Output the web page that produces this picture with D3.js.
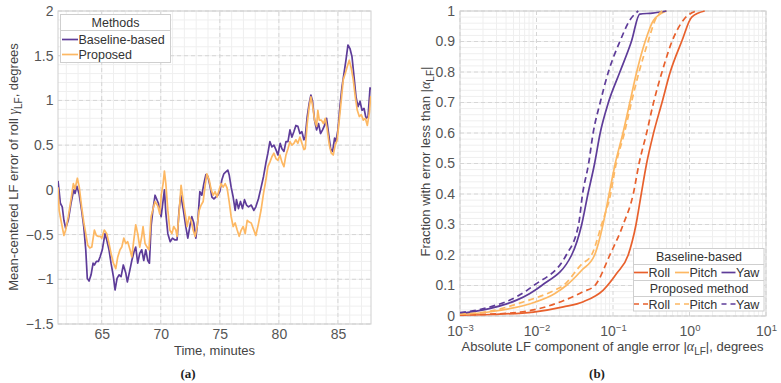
<!DOCTYPE html>
<html>
<head>
<meta charset="utf-8">
<script src="https://cdn.jsdelivr.net/npm/d3@7"></script>
<style>
body { margin: 0; background: #fff; }
svg { font-family: "Liberation Sans", Arial, sans-serif; }
.tick text { fill: #555; font-size: 14px; }
.title { fill: #444; font-size: 13px; }
.leg { fill: #333; font-size: 12.5px; }
.cap { font-family: "Liberation Serif", serif; font-weight: bold; font-size: 13px; fill: #222; }
</style>
</head>
<body>
<div id="chart"></div>
<script>
// ---- panel (a): mean-centered LF roll error, [minutes, degrees]
var baselineSeries = [[61.30,0.10],[61.40,-0.02],[61.50,-0.15],[61.66,-0.19],[61.80,-0.34],[61.95,-0.43],[62.17,-0.34],[62.40,-0.15],[62.63,0.00],[62.74,-0.04],[62.90,0.04],[63.08,-0.04],[63.30,-0.23],[63.48,-0.41],[63.65,-0.67],[63.78,-0.99],[63.93,-1.02],[64.10,-0.95],[64.27,-0.82],[64.38,-0.84],[64.55,-0.80],[64.72,-0.80],[64.86,-0.75],[65.05,-0.67],[65.28,-0.49],[65.43,-0.56],[65.62,-0.67],[65.79,-0.82],[65.99,-0.97],[66.13,-1.12],[66.30,-0.99],[66.47,-0.95],[66.64,-0.97],[66.83,-0.84],[67.04,-0.93],[67.17,-1.03],[67.38,-0.90],[67.55,-0.79],[67.74,-0.69],[67.88,-0.64],[68.05,-0.82],[68.22,-0.71],[68.39,-0.67],[68.56,-0.79],[68.73,-0.67],[68.90,-0.79],[69.04,-0.82],[69.18,-0.41],[69.33,-0.23],[69.52,-0.06],[69.80,-0.15],[70.03,-0.30],[70.31,0.00],[70.43,-0.26],[70.60,-0.49],[70.80,-0.58],[70.99,-0.54],[71.20,-0.56],[71.38,-0.56],[71.55,-0.23],[71.70,-0.06],[71.92,-0.23],[72.12,-0.41],[72.29,-0.54],[72.46,-0.41],[72.63,-0.30],[72.80,-0.37],[72.97,-0.54],[73.14,-0.34],[73.31,-0.02],[73.48,-0.06],[73.65,0.07],[73.82,0.17],[73.99,0.15],[74.16,0.05],[74.33,-0.08],[74.50,-0.10],[74.66,-0.08],[74.83,-0.06],[75.00,-0.02],[75.17,0.11],[75.34,0.18],[75.51,0.20],[75.68,0.22],[75.79,0.17],[75.96,0.03],[76.13,-0.08],[76.30,-0.23],[76.41,-0.11],[76.58,-0.21],[76.75,-0.13],[76.92,-0.21],[77.09,-0.11],[77.26,-0.17],[77.43,-0.19],[77.66,-0.17],[77.88,-0.23],[78.05,-0.19],[78.27,-0.10],[78.50,0.03],[78.70,0.15],[78.90,0.30],[79.07,0.41],[79.24,0.54],[79.41,0.48],[79.58,0.50],[79.75,0.45],[79.92,0.39],[80.11,0.52],[80.26,0.46],[80.43,0.43],[80.60,0.54],[80.77,0.54],[80.94,0.67],[81.10,0.59],[81.27,0.65],[81.44,0.72],[81.61,0.71],[81.78,0.63],[81.95,0.65],[82.12,0.56],[82.23,0.59],[82.40,0.82],[82.57,0.97],[82.71,1.06],[82.85,0.99],[83.02,0.78],[83.19,0.67],[83.36,0.74],[83.53,0.63],[83.70,0.67],[83.87,0.72],[84.04,0.80],[84.21,0.63],[84.38,0.46],[84.55,0.43],[84.72,0.58],[84.83,0.54],[85.00,0.67],[85.17,0.93],[85.34,1.15],[85.51,1.30],[85.68,1.45],[85.85,1.62],[86.02,1.58],[86.19,1.49],[86.36,1.27],[86.53,1.04],[86.70,0.93],[86.87,0.99],[87.04,0.89],[87.21,0.91],[87.38,0.80],[87.55,0.82],[87.72,1.14],[87.80,1.12]];

var proposedSeries = [[61.30,0.03],[61.40,-0.23],[61.55,-0.34],[61.80,-0.51],[61.95,-0.45],[62.17,-0.30],[62.40,-0.11],[62.60,0.07],[62.74,0.01],[62.94,0.13],[63.10,0.03],[63.30,-0.19],[63.48,-0.36],[63.65,-0.49],[63.82,-0.62],[63.99,-0.65],[64.16,-0.64],[64.38,-0.45],[64.55,-0.51],[64.72,-0.52],[64.89,-0.52],[65.00,-0.54],[65.22,-0.45],[65.43,-0.49],[65.62,-0.60],[65.79,-0.71],[65.99,-0.82],[66.19,-0.88],[66.36,-0.75],[66.55,-0.67],[66.70,-0.64],[66.87,-0.54],[67.04,-0.60],[67.20,-0.58],[67.40,-0.67],[67.55,-0.75],[67.72,-0.56],[67.88,-0.39],[68.05,-0.49],[68.22,-0.64],[68.39,-0.52],[68.50,-0.41],[68.67,-0.60],[68.84,-0.64],[69.00,-0.67],[69.18,-0.30],[69.35,-0.21],[69.52,-0.13],[69.75,-0.18],[69.92,-0.27],[70.05,-0.05],[70.20,0.07],[70.31,0.21],[70.43,0.07],[70.60,-0.23],[70.77,-0.45],[70.94,-0.49],[71.10,-0.41],[71.28,-0.45],[71.38,-0.52],[71.55,-0.26],[71.72,0.05],[71.89,-0.11],[72.06,-0.26],[72.23,-0.41],[72.40,-0.30],[72.57,-0.34],[72.74,-0.45],[72.91,-0.52],[73.08,-0.41],[73.25,-0.23],[73.42,-0.17],[73.59,-0.13],[73.76,0.05],[73.90,0.18],[74.10,0.11],[74.27,0.00],[74.44,-0.06],[74.60,-0.02],[74.77,-0.08],[74.94,0.00],[75.11,0.07],[75.28,0.03],[75.45,0.07],[75.62,0.02],[75.79,-0.13],[75.96,-0.30],[76.13,-0.41],[76.30,-0.37],[76.47,-0.45],[76.64,-0.52],[76.81,-0.45],[76.98,-0.41],[77.15,-0.49],[77.32,-0.34],[77.49,-0.36],[77.66,-0.37],[77.88,-0.45],[78.05,-0.51],[78.27,-0.38],[78.50,-0.22],[78.70,-0.04],[78.90,0.11],[79.07,0.26],[79.24,0.31],[79.41,0.37],[79.58,0.41],[79.75,0.35],[79.92,0.33],[80.09,0.39],[80.26,0.31],[80.43,0.26],[80.60,0.39],[80.77,0.46],[80.94,0.54],[81.10,0.50],[81.27,0.52],[81.44,0.56],[81.61,0.52],[81.78,0.59],[81.95,0.52],[82.12,0.45],[82.23,0.46],[82.40,0.74],[82.57,0.93],[82.71,1.04],[82.85,0.95],[83.02,0.78],[83.19,0.71],[83.30,0.89],[83.42,0.78],[83.60,0.78],[83.77,0.74],[83.93,0.80],[84.10,0.67],[84.27,0.50],[84.44,0.41],[84.60,0.39],[84.77,0.50],[84.94,0.56],[85.11,0.78],[85.28,1.00],[85.45,1.23],[85.62,1.30],[85.79,1.38],[85.96,1.45],[86.13,1.36],[86.30,1.23],[86.47,1.04],[86.64,0.89],[86.81,0.82],[86.98,0.84],[87.15,0.78],[87.32,0.80],[87.49,0.72],[87.66,0.86],[87.77,1.04],[87.80,1.02]];

var timeTicks = [65, 70, 75, 80, 85];
var errTicks = [-1.5, -1, -0.5, 0, 0.5, 1, 1.5, 2];

// ---- panel (b): CDF of |alpha_LF|, [degrees, fraction]
var rollBase = [[0.001,0.003],[0.0025,0.005],[0.0091,0.013],[0.0224,0.03],[0.041,0.047],[0.0746,0.085],[0.112,0.14],[0.158,0.20],[0.20,0.30],[0.234,0.40],[0.275,0.50],[0.339,0.60],[0.437,0.70],[0.56,0.80],[0.79,0.90],[1.07,0.98],[1.58,1.0]];
var pitchBase = [[0.001,0.005],[0.0025,0.014],[0.0095,0.045],[0.0174,0.074],[0.0245,0.10],[0.039,0.15],[0.0575,0.20],[0.074,0.30],[0.089,0.40],[0.107,0.50],[0.135,0.60],[0.166,0.70],[0.204,0.80],[0.263,0.90],[0.339,0.97],[0.50,1.0]];
var yawBase = [[0.001,0.008],[0.0025,0.025],[0.0055,0.052],[0.0082,0.074],[0.0117,0.10],[0.0288,0.20],[0.039,0.30],[0.047,0.40],[0.0575,0.50],[0.068,0.60],[0.087,0.70],[0.123,0.80],[0.174,0.90],[0.224,0.99],[0.33,0.993],[0.50,1.0]];
var rollProp = [[0.001,0.004],[0.0025,0.006],[0.0091,0.02],[0.0224,0.05],[0.041,0.08],[0.058,0.10],[0.091,0.20],[0.136,0.30],[0.184,0.40],[0.219,0.50],[0.275,0.60],[0.339,0.70],[0.437,0.80],[0.59,0.90],[0.83,0.97],[1.23,1.0]];
var pitchProp = [[0.001,0.006],[0.0025,0.016],[0.0067,0.046],[0.0174,0.085],[0.0224,0.10],[0.039,0.17],[0.0525,0.20],[0.071,0.30],[0.093,0.40],[0.11,0.50],[0.141,0.60],[0.174,0.70],[0.219,0.80],[0.288,0.90],[0.355,0.97],[0.44,1.0]];
var yawProp = [[0.001,0.011],[0.0025,0.03],[0.0055,0.063],[0.0092,0.10],[0.0245,0.20],[0.0355,0.30],[0.040,0.40],[0.048,0.50],[0.055,0.60],[0.068,0.70],[0.087,0.80],[0.123,0.90],[0.166,0.97],[0.214,1.0]];

var fracTicks = [0, 0.1, 0.2, 0.3, 0.4, 0.5, 0.6, 0.7, 0.8, 0.9, 1];
var decadeTicks = [1e-3, 1e-2, 1e-1, 1, 10];
var decadeLabels = ["−3", "−2", "−1", "0", "1"];

var purple = "#5e3c99", light = "#fdb863", red = "#e8602c";

var svg = d3.select("#chart")
    .append("svg")
    .attr("width", 781)
    .attr("height", 383);

function fmt(d) { return d < 0 ? "−" + Math.abs(d) : String(d); }

// grid helper: minor solid, major dashed
function grid(g, x, y, xs, ys, dashed) {
    g.selectAll(null).data(xs).join("line")
        .attr("x1", d => x(d)).attr("x2", d => x(d))
        .attr("y1", y.range()[0]).attr("y2", y.range()[1])
        .attr("stroke", dashed ? "#d6d6d6" : "#efefef")
        .attr("stroke-dasharray", dashed ? "4,3" : null);
    g.selectAll(null).data(ys).join("line")
        .attr("y1", d => y(d)).attr("y2", d => y(d))
        .attr("x1", x.range()[0]).attr("x2", x.range()[1])
        .attr("stroke", dashed ? "#d6d6d6" : "#efefef")
        .attr("stroke-dasharray", dashed ? "4,3" : null);
}

// ================= panel (a)
var xa = d3.scaleLinear().domain([61.3, 87.8]).range([58, 371]);
var ya = d3.scaleLinear().domain([-1.5, 2]).range([324, 11]);

var ga = svg.append("g");
grid(ga.append("g"), xa, ya, d3.range(62, 88), d3.range(-15, 21).map(d => d / 10), false);
grid(ga.append("g"), xa, ya, timeTicks, errTicks, true);

ga.append("rect")
    .attr("x", 58).attr("y", 11).attr("width", 313).attr("height", 313)
    .attr("fill", "none").attr("stroke", "#cfcfcf");

ga.append("g")
    .attr("transform", "translate(0,324)")
    .call(d3.axisBottom(xa).tickValues(timeTicks).tickSize(0).tickPadding(5.5))
    .call(g => g.select(".domain").remove());
ga.append("g")
    .attr("transform", "translate(58,0)")
    .call(d3.axisLeft(ya).tickValues(errTicks).tickFormat(fmt).tickSize(0).tickPadding(4.5))
    .call(g => g.select(".domain").remove());

svg.append("clipPath").attr("id", "clipA")
    .append("rect").attr("x", 58).attr("y", 11).attr("width", 313).attr("height", 313);

var lineA = d3.line().x(d => xa(d[0])).y(d => ya(d[1]));
ga.append("path").datum(baselineSeries)
    .attr("clip-path", "url(#clipA)")
    .attr("fill", "none").attr("stroke", purple).attr("stroke-width", 1.7)
    .attr("stroke-linejoin", "round").attr("d", lineA);
ga.append("path").datum(proposedSeries)
    .attr("clip-path", "url(#clipA)")
    .attr("fill", "none").attr("stroke", light).attr("stroke-width", 1.7)
    .attr("stroke-linejoin", "round").attr("d", lineA);

ga.append("text").attr("class", "title")
    .attr("x", 214.5).attr("y", 355).attr("text-anchor", "middle")
    .text("Time, minutes");

var yta = ga.append("text").attr("class", "title")
    .attr("transform", "translate(18,167) rotate(-90)")
    .attr("text-anchor", "middle");
yta.append("tspan").text("Mean-centered LF error of roll ");
yta.append("tspan").attr("font-family", "Liberation Serif, serif").attr("font-style", "italic").attr("font-size", 14).text("γ");
yta.append("tspan").attr("font-size", 10).attr("dy", 4).text("LF");
yta.append("tspan").attr("dy", -4).text(", degrees");

// legend (a)
var la = ga.append("g");
la.append("rect").attr("x", 60.5).attr("y", 14.5).attr("width", 110).attr("height", 48)
    .attr("fill", "#fff").attr("stroke", "#cfcfcf");
la.append("line").attr("x1", 60.5).attr("x2", 170.5).attr("y1", 30.5).attr("y2", 30.5).attr("stroke", "#cfcfcf");
la.append("text").attr("class", "leg").attr("x", 115.5).attr("y", 27).attr("text-anchor", "middle").text("Methods");
var itemsA = [{ name: "Baseline-based", c: purple }, { name: "Proposed", c: light }];
var rowA = la.selectAll(".ra").data(itemsA).join("g")
    .attr("transform", (d, i) => "translate(0," + (39.5 + i * 15) + ")");
rowA.append("line").attr("x1", 62).attr("x2", 78).attr("stroke", d => d.c).attr("stroke-width", 1.7);
rowA.append("text").attr("class", "leg").attr("x", 78.5).attr("y", 4.5).text(d => d.name);

svg.append("text").attr("class", "cap").attr("x", 188).attr("y", 378).attr("text-anchor", "middle").text("(a)");

// ================= panel (b)
var xb = d3.scaleLog().domain([1e-3, 10]).range([460, 766]);
var yb = d3.scaleLinear().domain([0, 1]).range([316, 11]);

var gb = svg.append("g");
var minorLog = [];
[1e-3, 1e-2, 1e-1, 1].forEach(function (p) {
    for (var k = 2; k <= 9; k++) minorLog.push(k * p);
});
grid(gb.append("g"), xb, yb, minorLog, d3.range(0, 51).map(d => d / 50), false);
grid(gb.append("g"), xb, yb, decadeTicks, fracTicks, true);

gb.append("rect")
    .attr("x", 460).attr("y", 11).attr("width", 306).attr("height", 305)
    .attr("fill", "none").attr("stroke", "#cfcfcf");

gb.append("g")
    .attr("transform", "translate(460,0)")
    .call(d3.axisLeft(yb).tickValues(fracTicks).tickFormat(d => String(d)).tickSize(0).tickPadding(5))
    .call(g => g.select(".domain").remove());

var xtb = gb.append("g")
    .attr("transform", "translate(0,316)")
    .call(d3.axisBottom(xb).tickValues(decadeTicks).tickFormat(() => "").tickSize(0).tickPadding(10.5))
    .call(g => g.select(".domain").remove());
xtb.selectAll(".tick text").each(function (d, i) {
    var t = d3.select(this);
    t.append("tspan").text("10");
    t.append("tspan").attr("font-size", 9.5).attr("dy", -5).text(decadeLabels[i]);
});

svg.append("clipPath").attr("id", "clipB")
    .append("rect").attr("x", 460).attr("y", 10).attr("width", 306).attr("height", 307);

var lineB = d3.line().x(d => xb(d[0])).y(d => yb(d[1])).curve(d3.curveMonotoneX);
var curves = [
    { data: rollBase, c: red, dash: null },
    { data: pitchBase, c: light, dash: null },
    { data: yawBase, c: purple, dash: null },
    { data: rollProp, c: red, dash: "6,4" },
    { data: pitchProp, c: light, dash: "6,4" },
    { data: yawProp, c: purple, dash: "6,4" }
];
gb.append("g").attr("clip-path", "url(#clipB)")
    .selectAll("path").data(curves).join("path")
    .attr("fill", "none")
    .attr("stroke", d => d.c)
    .attr("stroke-width", 1.7)
    .attr("stroke-dasharray", d => d.dash)
    .attr("d", d => lineB(d.data));

gb.append("text").attr("class", "title")
    .attr("x", 612.5).attr("y", 350.5).attr("text-anchor", "middle")
    .call(function (t) {
        t.append("tspan").text("Absolute LF component of angle error |");
        t.append("tspan").attr("font-family", "Liberation Serif, serif").attr("font-style", "italic").attr("font-size", 14).text("α");
        t.append("tspan").attr("font-size", 10).attr("dy", 4).text("LF");
        t.append("tspan").attr("dy", -4).text("|, degrees");
    });

gb.append("text").attr("class", "title")
    .attr("transform", "translate(430,161.5) rotate(-90)")
    .attr("text-anchor", "middle")
    .call(function (t) {
        t.append("tspan").text("Fraction with error less than |");
        t.append("tspan").attr("font-family", "Liberation Serif, serif").attr("font-style", "italic").attr("font-size", 14).text("α");
        t.append("tspan").attr("font-size", 10).attr("dy", 4).text("LF");
        t.append("tspan").attr("dy", -4).text("|");
    });

// legend (b)
var lb = gb.append("g");
lb.append("rect").attr("x", 633.5).attr("y", 248.5).attr("width", 130.5).attr("height", 62.5)
    .attr("fill", "#fff").attr("stroke", "#cfcfcf");
[264.5, 280.5, 296.5].forEach(function (yy) {
    lb.append("line").attr("x1", 633.5).attr("x2", 764).attr("y1", yy).attr("y2", yy).attr("stroke", "#cfcfcf");
});
lb.append("text").attr("class", "leg").attr("x", 699).attr("y", 260.5).attr("text-anchor", "middle").text("Baseline-based");
lb.append("text").attr("class", "leg").attr("x", 699).attr("y", 292.5).attr("text-anchor", "middle").text("Proposed method");
var itemsB = [{ name: "Roll", c: red, x: 634 }, { name: "Pitch", c: light, x: 675 }, { name: "Yaw", c: purple, x: 721.5 }];
[{ y: 272.5, dash: null }, { y: 304, dash: "5,4" }].forEach(function (row) {
    var g = lb.append("g").attr("transform", "translate(0," + row.y + ")");
    var it = g.selectAll("g").data(itemsB).join("g");
    it.append("line").attr("x1", d => d.x).attr("x2", d => d.x + 14)
        .attr("stroke", d => d.c).attr("stroke-width", 1.7).attr("stroke-dasharray", row.dash);
    it.append("text").attr("class", "leg").attr("x", d => d.x + 14.5).attr("y", 4.5).text(d => d.name);
});

svg.append("text").attr("class", "cap").attr("x", 597).attr("y", 378).attr("text-anchor", "middle").text("(b)");
</script>
</body>
</html>
